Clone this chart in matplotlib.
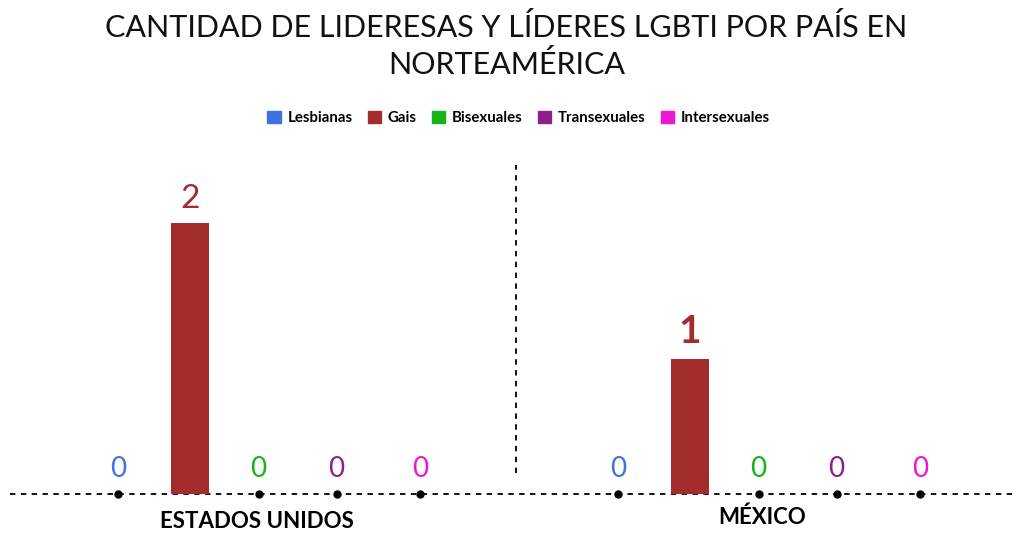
import matplotlib.pyplot as plt
from matplotlib.patches import Patch

countries = ["ESTADOS UNIDOS", "MÉXICO"]
series = ["Lesbianas", "Gais", "Bisexuales", "Transexuales", "Intersexuales"]
colors = ["#4170E0", "#A32D2D", "#17B317", "#8C1F8C", "#EA17D3"]
# values[country][series]
values = [
    [0, 2, 0, 0, 0],
    [0, 1, 0, 0, 0],
]

# position of each series inside a country group (group spacing = 1)
offsets = [-0.278, -0.134, 0.003, 0.159, 0.326]
bar_w = 0.076

plt.rcParams["font.family"] = ["Lato", "DejaVu Sans"]

fig = plt.figure(figsize=(10.13, 5.33), dpi=100)
ax = fig.add_axes([0.0, 0.0735, 1.0, 0.66])

for gi, country in enumerate(countries):
    for si, name in enumerate(series):
        x = gi + offsets[si]
        v = values[gi][si]
        if v > 0:
            ax.bar(x, v, width=bar_w, color=colors[si], zorder=2)
            bold = gi == 1
            ax.text(x, v + 0.07, str(v), ha="center", va="bottom",
                    fontsize=28 if bold else 24, color=colors[si],
                    fontweight="bold" if bold else "normal")
        else:
            ax.plot(x, 0, "o", color="black", markersize=5, zorder=3,
                    clip_on=False)
            ax.text(x, 0.09, "0", ha="center", va="bottom", fontsize=20,
                    color=colors[si], fontweight="normal")

ax.axhline(0, color="black", linestyle=(0, (3, 3)), linewidth=1.3, zorder=1,
           xmin=0.01, clip_on=False)
ax.axvline(0.518, ymin=0.06, ymax=0.935, color="black", linestyle=(0, (3, 3)),
           linewidth=1.3)

ax.set_xlim(-0.514, 1.512)
ax.set_ylim(0, 2.6)
ax.axis("off")

ax.text(0, -0.13, countries[0], ha="center", va="top", fontsize=16,
        fontweight="bold")
ax.text(1.01, -0.09, countries[1], ha="center", va="top", fontsize=16,
        fontweight="bold")

fig.suptitle("CANTIDAD DE LIDERESAS Y LÍDERES LGBTI POR PAÍS EN\nNORTEAMÉRICA",
             y=0.975, fontsize=22, fontweight="normal", linespacing=1.3,
             color="#111111")

handles = [Patch(color=c, label=s) for s, c in zip(series, colors)]
fig.legend(handles=handles, loc="center", bbox_to_anchor=(0.512, 0.779),
           ncol=5, frameon=False, handlelength=0.9, handleheight=0.9,
           handletextpad=0.45, columnspacing=1.0,
           prop={"size": 10.8, "weight": "bold"})

fig.savefig("out.png", dpi=100)
